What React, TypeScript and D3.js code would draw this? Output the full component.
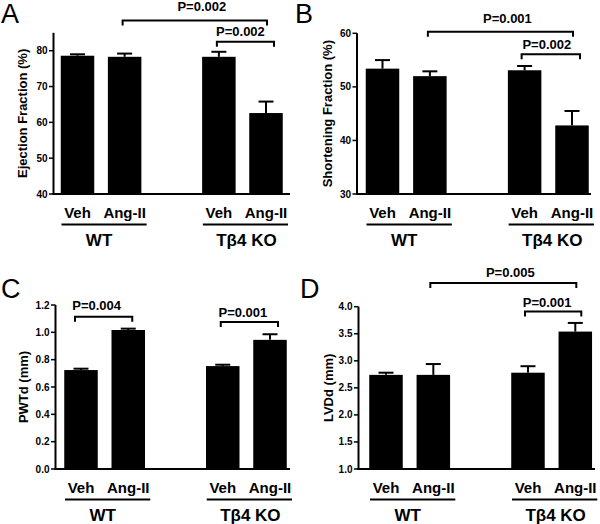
import React from "react";
import * as d3 from "d3";

// ---------- data ----------
const groups = ["WT", "Tβ4 KO"];
const treatments = ["Veh", "Ang-II"];

const efMean = [78.6, 78.3, 78.3, 62.6];
const efErr = [0.4, 0.9, 1.4, 3.2];
const efTicks = [40, 50, 60, 70, 80];

const sfMean = [53.4, 52.0, 53.1, 42.8];
const sfErr = [1.6, 0.9, 0.8, 2.7];
const sfTicks = [30, 40, 50, 60];

const pwtMean = [0.724, 1.017, 0.753, 0.945];
const pwtErr = [0.01, 0.01, 0.01, 0.041];
const pwtTicks = [0, 0.2, 0.4, 0.6, 0.8, 1.0, 1.2];

const lvdMean = [2.74, 2.74, 2.78, 3.54];
const lvdErr = [0.04, 0.2, 0.12, 0.16];
const lvdTicks = [1.0, 1.5, 2.0, 2.5, 3.0, 3.5, 4.0];

const efP = ["P=0.002", "P=0.002"];
const sfP = ["P=0.001", "P=0.002"];
const pwtP = ["P=0.004", "P=0.001"];
const lvdP = ["P=0.005", "P=0.001"];

// ---------- layout ----------
const FONT = "'Liberation Sans', Arial, Helvetica, sans-serif";
const slots = [0, 1, 3, 4];

type Bracket = { a: number; b: number; y: number; label: string; l: number; r: number; dx: number; dy: number };
type Panel = {
  letter: string; lx: number; ly: number;
  yLabel: string; yLabelX: number;
  domain: [number, number]; yRange: [number, number];
  ticks: number[]; fmt: (v: number) => string;
  axisX: number; axisEnd: number; c0: number; c4: number;
  means: number[]; errs: number[]; brackets: Bracket[];
};

const panels: Panel[] = [
  {
    letter: "A", lx: 1, ly: 23, yLabel: "Ejection Fraction (%)", yLabelX: 27,
    domain: [40, 85], yRange: [194, 32.8], ticks: efTicks, fmt: d3.format("d"),
    axisX: 53.5, axisEnd: 290, c0: 77.5, c4: 266, means: efMean, errs: efErr,
    brackets: [
      { a: 1, b: 3, y: 88.4, label: efP[0], l: -2, r: 1, dx: 7, dy: -10 },
      { a: 2, b: 3, y: 82.5, label: efP[1], l: -2, r: 8, dx: -5, dy: -6 },
    ],
  },
  {
    letter: "B", lx: 295, ly: 23, yLabel: "Shortening Fraction (%)", yLabelX: 332,
    domain: [30, 60], yRange: [194, 33.3], ticks: sfTicks, fmt: d3.format("d"),
    axisX: 357, axisEnd: 591, c0: 382.5, c4: 572, means: sfMean, errs: sfErr,
    brackets: [
      { a: 1, b: 3, y: 60.3, label: sfP[0], l: -2, r: 1, dx: 7, dy: -8.5 },
      { a: 2, b: 3, y: 56.1, label: sfP[1], l: -3, r: 8, dx: -4, dy: -5.5 },
    ],
  },
  {
    letter: "C", lx: 1, ly: 298, yLabel: "PWTd (mm)", yLabelX: 28,
    domain: [0, 1.2], yRange: [469, 305], ticks: pwtTicks, fmt: d3.format(".1f"),
    axisX: 55.5, axisEnd: 290, c0: 81, c4: 270, means: pwtMean, errs: pwtErr,
    brackets: [
      { a: 0, b: 1, y: 1.114, label: pwtP[0], l: -6, r: 4, dx: -7, dy: -6.5 },
      { a: 2, b: 3, y: 1.075, label: pwtP[1], l: -2, r: 8, dx: -6.5, dy: -5.5 },
    ],
  },
  {
    letter: "D", lx: 300, ly: 298, yLabel: "LVDd (mm)", yLabelX: 333,
    domain: [1, 4], yRange: [469, 306.7], ticks: lvdTicks, fmt: d3.format(".1f"),
    axisX: 358.5, axisEnd: 595, c0: 386, c4: 575.3, means: lvdMean, errs: lvdErr,
    brackets: [
      { a: 1, b: 3, y: 4.44, label: lvdP[0], l: -3, r: 1, dx: 7, dy: -6 },
      { a: 2, b: 3, y: 3.91, label: lvdP[1], l: -3, r: 6, dx: -6, dy: -5 },
    ],
  },
];

const BAR_W = 33.5;
const CAP_W = 15;

function PanelView({ p }: { p: Panel }) {
  const y = d3.scaleLinear().domain(p.domain).range(p.yRange);
  const x = d3.scaleLinear().domain([0, 4]).range([p.c0, p.c4]);
  const base = p.yRange[0];
  const cx = slots.map((s) => x(s));
  const yTop = p.yRange[1];
  return (
    <g>
      <text x={p.lx} y={p.ly} fontSize={27} fontFamily={FONT} fill="#000">{p.letter}</text>
      {/* bars */}
      {p.means.map((m, i) => (
        <rect key={"b" + i} x={cx[i] - BAR_W / 2} y={y(m)} width={BAR_W} height={base - y(m)} fill="#000" />
      ))}
      {/* error bars */}
      {p.means.map((m, i) => (
        <g key={"e" + i} stroke="#000" strokeWidth={2}>
          <line x1={cx[i]} x2={cx[i]} y1={y(m)} y2={y(m + p.errs[i])} />
          <line x1={cx[i] - CAP_W / 2} x2={cx[i] + CAP_W / 2} y1={y(m + p.errs[i])} y2={y(m + p.errs[i])} />
        </g>
      ))}
      {/* axes */}
      <line x1={p.axisX} x2={p.axisX} y1={yTop} y2={base + 1} stroke="#000" strokeWidth={2} />
      <line x1={p.axisX - 1} x2={p.axisEnd} y1={base} y2={base} stroke="#000" strokeWidth={2} />
      {p.ticks.map((t) => (
        <g key={"t" + t}>
          <line x1={p.axisX - 4.5} x2={p.axisX} y1={y(t)} y2={y(t)} stroke="#000" strokeWidth={1.5} />
          <text x={p.axisX - 6} y={y(t) + 3.5} textAnchor="end" fontSize={10} fontWeight="bold" fontFamily={FONT}>
            {p.fmt(t)}
          </text>
        </g>
      ))}
      <text
        transform={`translate(${p.yLabelX},${(yTop + base) / 2}) rotate(-90)`}
        textAnchor="middle" fontSize={13} fontWeight="bold" fontFamily={FONT}
      >
        {p.yLabel}
      </text>
      {/* category labels */}
      {cx.map((c, i) => (
        <text key={"c" + i} x={c} y={base + 24} textAnchor="middle" fontSize={15} fontWeight="bold" fontFamily={FONT}>
          {treatments[i % 2]}
        </text>
      ))}
      {groups.map((g, gi) => {
        const a = cx[gi * 2];
        const b = cx[gi * 2 + 1];
        return (
          <g key={"g" + gi}>
            <line x1={a - 16} x2={b + 22} y1={base + 30.5} y2={base + 30.5} stroke="#000" strokeWidth={2} />
            <text x={(a + b) / 2 + (gi === 0 ? -2 : 4)} y={base + 51.5} textAnchor="middle" fontSize={17} fontWeight="bold" fontFamily={FONT}>
              {g}
            </text>
          </g>
        );
      })}
      {/* significance brackets */}
      {p.brackets.map((br, i) => {
        const x1 = cx[br.a] + br.l;
        const x2 = cx[br.b] + br.r;
        const by = y(br.y);
        return (
          <g key={"br" + i}>
            <path d={`M${x1},${by + 5}V${by}H${x2}V${by + 5}`} fill="none" stroke="#000" strokeWidth={2} />
            <text x={(x1 + x2) / 2 + br.dx} y={by + br.dy} textAnchor="middle" fontSize={13} fontWeight="bold" fontFamily={FONT}>
              {br.label}
            </text>
          </g>
        );
      })}
    </g>
  );
}

export default function App() {
  return (
    <svg width={600} height={524} style={{ position: "absolute", left: 0, top: 0, background: "#fff" }}>
      <rect width={600} height={524} fill="#fff" />
      {panels.map((p) => (
        <PanelView key={p.letter} p={p} />
      ))}
    </svg>
  );
}
